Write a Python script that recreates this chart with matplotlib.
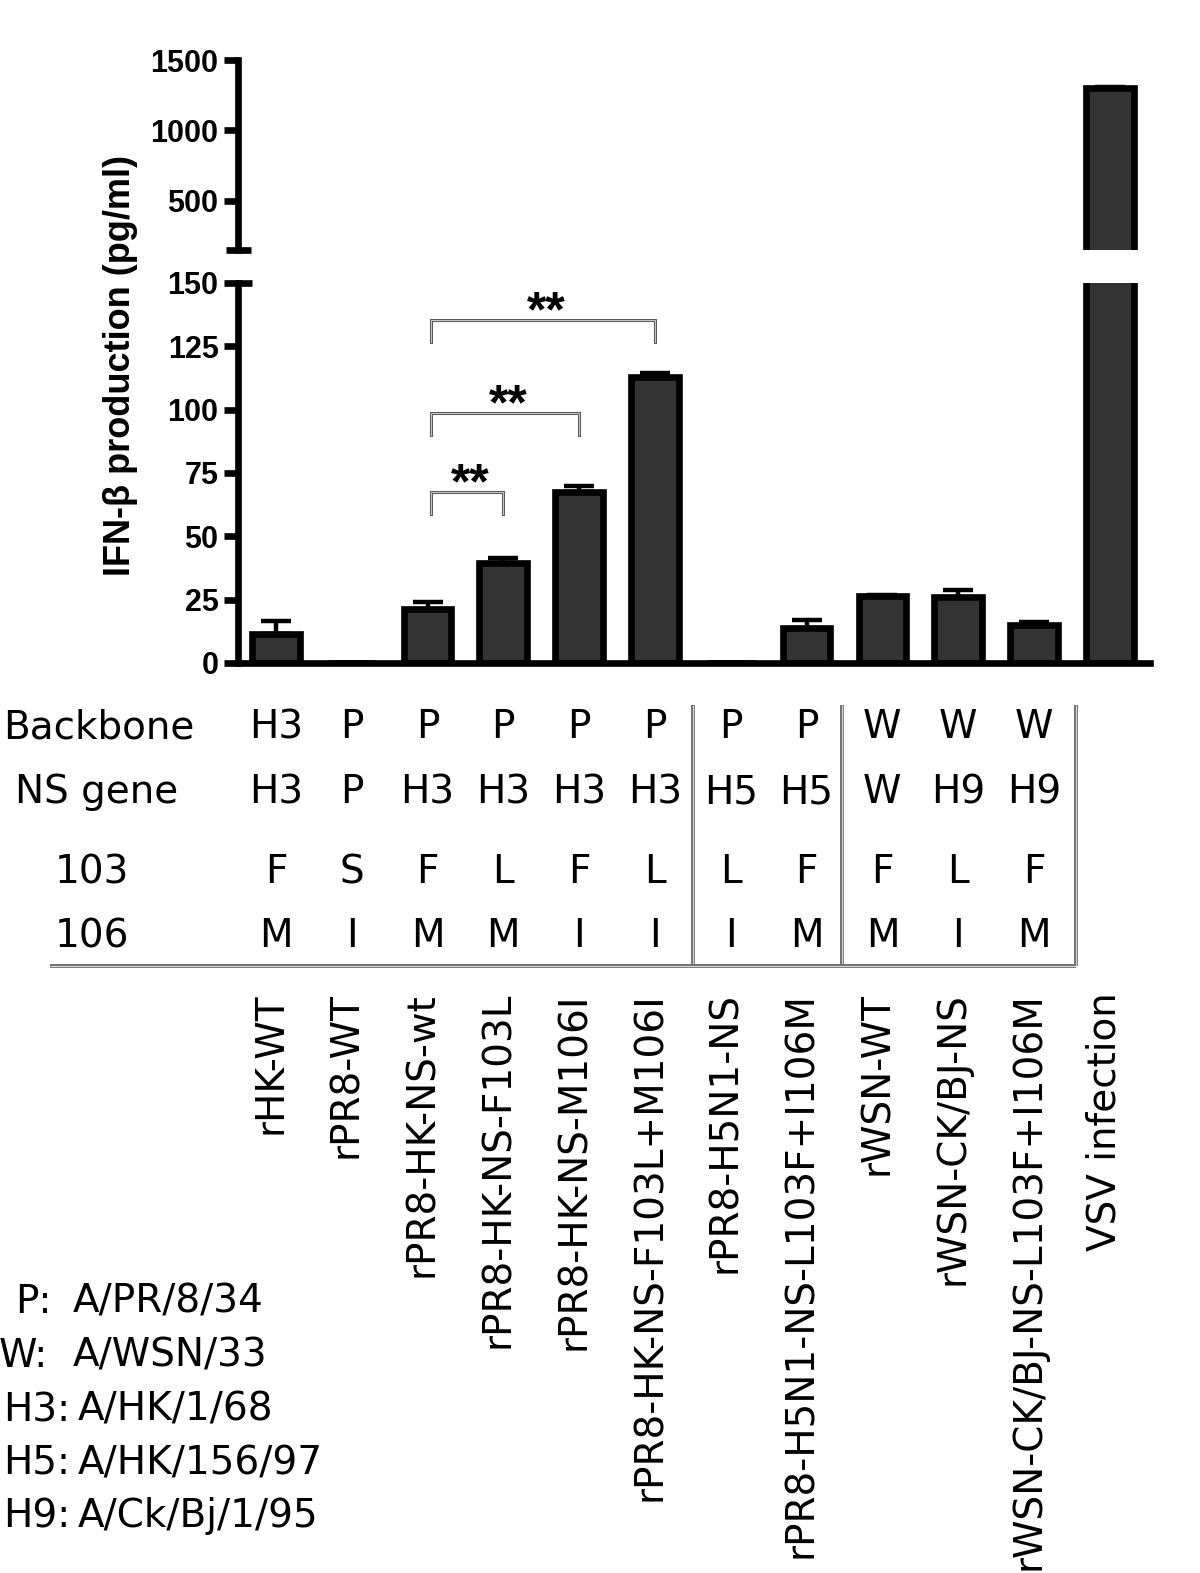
import matplotlib
matplotlib.use("Agg")
import matplotlib.pyplot as plt
from matplotlib.transforms import blended_transform_factory
import numpy as np

# ---------------- data ----------------
categories = ["rHK-WT", "rPR8-WT", "rPR8-HK-NS-wt", "rPR8-HK-NS-F103L",
              "rPR8-HK-NS-M106I", "rPR8-HK-NS-F103L+M106I", "rPR8-H5N1-NS",
              "rPR8-H5N1-NS-L103F+I106M", "rWSN-WT", "rWSN-CK/BJ-NS",
              "rWSN-CK/BJ-NS-L103F+I106M", "VSV infection"]
ifn_beta = [11.5, 0, 21.5, 39.5, 67.5, 113, 0, 14, 26.5, 26, 15, 1300]
ifn_err = [5, 0, 2.5, 2, 2.5, 1.5, 0, 3, 0.5, 3, 1, 10]

lower_ticks = [0, 25, 50, 75, 100, 125, 150]
upper_ticks = [500, 1000, 1500]

row_labels = ["Backbone", "NS gene", "103", "106"]
backbone = ["H3", "P", "P", "P", "P", "P", "P", "P", "W", "W", "W"]
ns_gene = ["H3", "P", "H3", "H3", "H3", "H3", "H5", "H5", "W", "H9", "H9"]
res103 = ["F", "S", "F", "L", "F", "L", "L", "F", "F", "L", "F"]
res106 = ["M", "I", "M", "M", "I", "I", "I", "M", "M", "I", "M"]

strain_keys = ["P:", "W:", "H3:", "H5:", "H9:"]
strain_names = ["A/PR/8/34", "A/WSN/33", "A/HK/1/68", "A/HK/156/97", "A/Ck/Bj/1/95"]

comparisons = [(2, 3), (2, 4), (2, 5)]
sig_labels = ["**", "**", "**"]

# ---------------- layout ----------------
W, H = 1200, 1573
fig = plt.figure(figsize=(W / 100, H / 100), dpi=100)


def fy(py):
    return 1 - py / H


LW = 4.8
left_px, right_px = 238, 1150
ax_bot = fig.add_axes([left_px / W, fy(663), (right_px - left_px) / W, (663 - 283) / H])
ax_top = fig.add_axes([left_px / W, fy(250), (right_px - left_px) / W, (250 - 60) / H])

x = np.arange(len(categories))
bar_w = 0.63
for ax in (ax_bot, ax_top):
    ax.errorbar(x, ifn_beta, yerr=[np.zeros(len(x)), ifn_err], fmt='none',
                ecolor='black', elinewidth=3.2, capsize=10.5, capthick=3.2, zorder=1)
    ax.bar(x, ifn_beta, width=bar_w, color='#333333', edgecolor='black',
           linewidth=LW, zorder=2)
    ax.set_xlim(-0.5, 11.53)
    for s in ('top', 'right'):
        ax.spines[s].set_visible(False)
    ax.spines['left'].set_linewidth(LW)
    ax.spines['bottom'].set_linewidth(LW)
    ax.set_xticks([])
    ax.tick_params(axis='y', direction='out', length=10, width=LW, pad=4,
                   labelsize=22)
    ax.patch.set_alpha(0)

ax_bot.set_ylim(0, 150)
ax_bot.set_yticks(lower_ticks)
ax_bot.set_yticklabels([str(t) for t in lower_ticks])

ax_top.set_ylim(150, 1500)
ax_top.set_yticks(upper_ticks)
ax_top.set_yticklabels([str(t) for t in upper_ticks])
ax_top.spines['bottom'].set_visible(False)

# end caps of broken axis
ax_top.yaxis.remove_overlapping_locs = False
ax_top.set_yticks([150], minor=True)
ax_top.tick_params(axis='y', which='minor', direction='inout', length=18, width=LW)
ax_bot.yaxis.remove_overlapping_locs = False
ax_bot.set_yticks([150], minor=True)
ax_bot.tick_params(axis='y', which='minor', direction='in', length=10, width=LW)

for ax in (ax_bot, ax_top):
    for lab in ax.get_yticklabels():
        lab.set_fontfamily('Liberation Sans')
        lab.set_fontweight('bold')

fig.text(120 / W, fy(366), "IFN-\u03b2 production (pg/ml)", rotation=90,
         ha='center', va='center', fontsize=26, fontweight='bold',
         family='Liberation Sans')

# significance brackets
bracket_tops = [67.5, 98.7, 135.4]
leg_len = 8.8
for (a, b), lab, yt in zip(comparisons, sig_labels, bracket_tops):
    xa, xb = a + 0.05, b
    xs = [xa, xa, xb, xb]
    ys = [yt - leg_len, yt, yt, yt - leg_len]
    ax_bot.plot(xs, ys, color='#5a5a5a', lw=2.2, solid_joinstyle='miter', zorder=4)
    ax_bot.plot(xs, ys, color='#dcdcdc', lw=0.6, solid_joinstyle='miter', zorder=5)
    ax_bot.text((xa + xb) / 2 + 0.04, yt - 2.6, lab, ha='center', va='baseline',
                fontsize=36, fontweight='bold', family='Liberation Sans')

# ---------------- table under the axis ----------------
tfont = dict(family='DejaVu Sans', fontsize=28)
bt = blended_transform_factory(ax_bot.transData, fig.transFigure)
row_baselines = [738, 803, 883, 947]
row_label_x = [3, 15, 55, 55]
for lab, lx, by in zip(row_labels, row_label_x, row_baselines):
    fig.text(lx / W, fy(by), lab, ha='left', va='baseline', **tfont)
for row, by in zip([backbone, ns_gene, res103, res106], row_baselines):
    for i, v in enumerate(row):
        fig.text(i, fy(by), v, ha='center', va='baseline', transform=bt, **tfont)


# separators
def gray_line(xs, ys):
    fig.add_artist(plt.Line2D(xs, ys, transform=bt, color='#6a6a6a', lw=2.8,
                              solid_capstyle='butt'))
    fig.add_artist(plt.Line2D(xs, ys, transform=bt, color='#d6d6d6', lw=0.9,
                              solid_capstyle='butt'))


for sx in (5.5, 7.47, 10.55):
    gray_line([sx, sx], [fy(705), fy(966)])
gray_line([-2.98, 10.55], [fy(966), fy(966)])

# category labels
for i, c in enumerate(categories):
    fig.text(i - 0.07, fy(992), c, rotation=90, ha='center', va='top',
             transform=bt, **tfont)

# strain legend
key_x = [15, -1, 3, 3, 3]
name_x = [73, 73, 78, 78, 78]
leg_baselines = [1313, 1367, 1421, 1474, 1527]
for k, n, kx, nx, by in zip(strain_keys, strain_names, key_x, name_x, leg_baselines):
    fig.text(kx / W, fy(by), k, ha='left', va='baseline', **tfont)
    fig.text(nx / W, fy(by), n, ha='left', va='baseline', **tfont)

fig.savefig("out.png", dpi=100)
